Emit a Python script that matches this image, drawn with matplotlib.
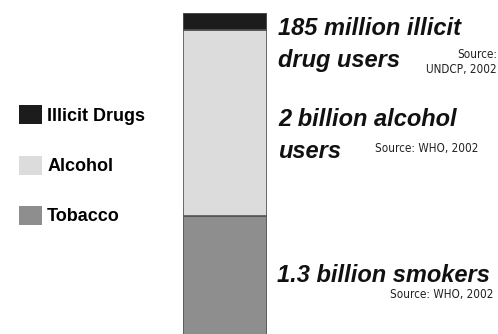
import matplotlib.pyplot as plt
from matplotlib.patches import Patch

# stacked bar, billions of users (bottom to top)
categories = ["Tobacco", "Alcohol", "Illicit Drugs"]
users = [1.3, 2.0, 0.185]
colors = ["#8e8e8e", "#dcdcdc", "#1c1c1c"]

W, H = 498, 334
fig = plt.figure(figsize=(W / 100, H / 100), dpi=100)
fig.patch.set_facecolor("white")

# bar axis: top edge at y=13px, bottom runs off the figure
ax = fig.add_axes([183 / W, -2 / H, 84 / W, 323 / H])
bottom = 0
for cat, val, col in zip(categories, users, colors):
    ax.bar(0, val, width=1, bottom=bottom, color=col, edgecolor="#555555", linewidth=1.2, label=cat)
    bottom += val
ax.set_xlim(-0.5, 0.5)
ax.set_ylim(0, sum(users))
ax.axis("off")

# legend on the left (top entry = illicit drugs)
handles = [Patch(facecolor=c, edgecolor="none") for c in colors[::-1]]
fig.legend(handles, categories[::-1], loc="upper left", bbox_to_anchor=(3 / W, 1 - 89 / H),
           frameon=False, prop={"family": "Liberation Sans", "weight": "bold", "size": 13},
           handlelength=1.25, handleheight=1.25, labelspacing=1.7, handletextpad=0.3)

big = {"family": "Liberation Sans", "weight": "bold", "style": "italic", "size": 17, "color": "#111111"}
small = {"family": "DejaVu Sans", "stretch": "condensed", "size": 8.4, "color": "#222222"}

def px(x, y):
    return x / W, 1 - y / H

fig.text(*px(278, 35), "185 million illicit", va="baseline", **big)
fig.text(*px(278, 67), "drug users", va="baseline", **big)
fig.text(*px(497, 58), "Source:", ha="right", va="baseline", **small)
fig.text(*px(497, 73), "UNDCP, 2002", ha="right", va="baseline", **small)

fig.text(*px(278, 126), "2 billion alcohol", va="baseline", **big)
fig.text(*px(278, 158), "users", va="baseline", **big)
fig.text(*px(478, 152), "Source: WHO, 2002", ha="right", va="baseline", **small)

fig.text(*px(277, 282), "1.3 billion smokers", va="baseline", **big)
fig.text(*px(493, 298), "Source: WHO, 2002", ha="right", va="baseline", **small)

fig.savefig("out.png", dpi=100, facecolor="white")
